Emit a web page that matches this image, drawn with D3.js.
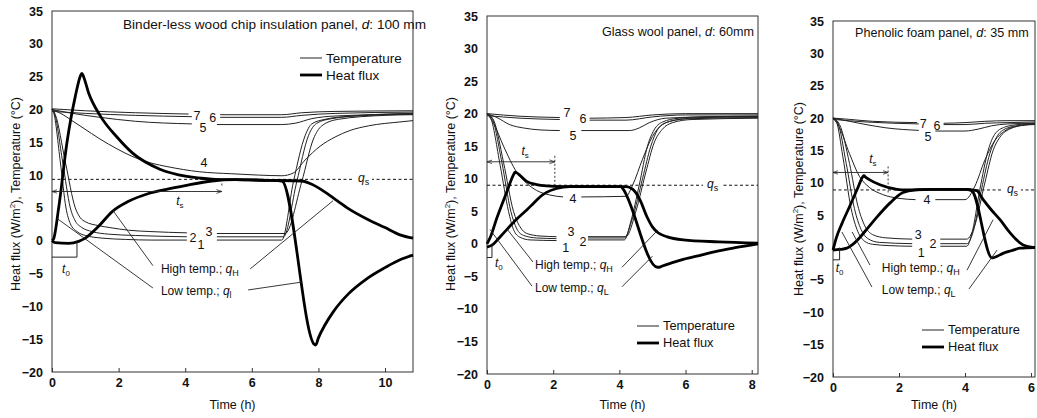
<!DOCTYPE html>
<html>
<head>
<meta charset="utf-8">
<script src="https://cdn.jsdelivr.net/npm/d3@7"></script>
<style>
body { margin: 0; background: #fff; }
svg text { font-family: "Liberation Sans", Arial, sans-serif; fill: #111; }
</style>
</head>
<body>
<svg id="chart" width="1037" height="418"></svg>
<script>
// ---------- data (time in h, value in degC or W/m2) ----------
// null = gap in the recorded trace (where the curve number sits)

// binder-less wood chip panel, d = 100 mm
var woodT1 = [[0,20],[0.05,19.5],[0.25,12],[0.42,5],[0.55,2.6],[0.75,1.4],[1,0.8],[1.5,0.4],[2.2,0.2],[3,0.1],[4.05,0.1],null,[4.95,0.1],[6.9,0.1],[7.25,9],[7.6,16],[7.8,17.8],[8.2,18.5],[9,19],[10,19.3],[10.84,19.4]];
var woodT2 = [[0,20],[0.08,19.3],[0.32,12],[0.55,5],[0.7,3],[0.9,2],[1.2,1.4],[1.7,1],[2.5,0.8],[4.05,0.6],null,[4.95,0.6],[6.95,0.6],[7.35,9],[7.7,16],[7.95,17.9],[8.4,18.6],[9.5,19.1],[10.84,19.3]];
var woodT3 = [[0,20],[0.1,19.2],[0.4,12],[0.7,5],[0.85,3.5],[1,2.9],[1.4,2.3],[1.74,2],[2.3,1.6],[2.94,1.4],[4.05,1.2],null,[4.95,1.1],[7,1.1],[7.5,9],[7.85,15.5],[8.1,17.5],[8.6,18.5],[10,19.1],[10.84,19.2]];
var woodT4 = [[0,20],[0.3,19.3],[0.6,18.3],[0.93,17.2],[1.44,15.5],[1.95,14],[2.43,12.8],[3,11.8],[3.45,11.3],[4.44,10.5],[5.4,10.2],[6.2,10],[6.9,9.9],[7.24,10.3],[7.6,12.3],[8.05,14.4],[8.5,15.8],[8.95,16.8],[9.5,17.5],[10.45,18.1],[10.84,18.3]];
var woodT5 = [[0,20],[0.5,19.5],[1.44,18.8],[2.5,18.2],[4.2,17.8],null,[4.95,17.7],[6.9,17.7],[7.3,17.9],[7.8,18.6],[8.5,19],[10.84,19.3]];
var woodT6 = [[0,19.7],[1,19.4],[2.5,19.1],[4.2,18.9],null,[5.05,18.8],[6.9,18.8],[7.5,19.1],[8.5,19.4],[10.84,19.6]];
var woodT7 = [[0,20.1],[1,19.8],[2.5,19.5],[4.1,19.3],null,[5.05,19.2],[6.9,19.2],[7.5,19.5],[8.5,19.7],[10.84,19.8]];
var woodQH = [[0,0],[0.1,-0.3],[0.5,-0.4],[0.8,-0.1],[1,0.4],[1.4,2.2],[1.8,4.4],[2.3,6],[2.9,7.2],[3.5,7.9],[4,8.4],[4.8,9.1],[5.5,9.3],[6.5,9.2],[7.5,9.1],[7.8,8.6],[8.2,7.4],[8.56,6.1],[8.9,4.9],[9.5,3.2],[10,2],[10.45,0.9],[10.84,0.4]];
var woodQL = [[0,0],[0.05,0.3],[0.2,5],[0.45,15],[0.7,22],[0.86,25.2],[0.9,25.5],[0.94,25.1],[1.1,22.5],[1.44,19.1],[1.95,15.8],[2.43,13.3],[3.24,10.9],[4.05,9.8],[4.8,9.4],[5.5,9.3],[6.5,9.2],[6.9,9.1],[7.88,-15.8],[7.92,-15.9],[8,-14.8],[8.2,-12.8],[8.45,-10.8],[8.9,-8.1],[9.45,-5.8],[10,-4.1],[10.45,-2.9],[10.84,-2.2]];

// glass wool panel, d = 60 mm
var glassT1 = [[0,20],[0.1,19.5],[0.4,12],[0.65,5],[0.8,2.2],[1,1],[1.3,0.6],[2.1,0.5],null,[3.05,0.6],[4.15,0.6],[4.35,3.5],[4.6,9],[4.85,15],[5.05,17.5],[5.3,18.7],[5.8,19.3],[6.5,19.5],[8.19,19.6]];
var glassT2 = [[0,20],[0.15,19.3],[0.45,12.5],[0.72,5],[0.9,2.3],[1.1,1.3],[1.5,0.9],[2.1,0.8],null,[3.05,0.9],[4.15,0.9],[4.4,4],[4.7,10],[4.95,15],[5.15,17.5],[5.4,18.6],[6,19.2],[8.19,19.4]];
var glassT3 = [[0,20],[0.2,19],[0.5,12.5],[0.8,5],[1,2.6],[1.2,1.6],[1.6,1.2],[2.1,1.1],null,[3.05,1.1],[4.2,1.1],[4.5,5],[4.8,11],[5.05,15.5],[5.3,17.6],[5.6,18.6],[6.2,19.1],[8.19,19.3]];
var glassT4 = [[0,20],[0.2,18.5],[0.5,15],[0.9,11],[1.2,9.3],[1.5,8.2],[1.9,7.5],[2.3,7.2],null,[2.85,7.2],[4.2,7.3],[4.4,9],[4.7,13],[5,16.5],[5.3,18.3],[5.7,19],[6.5,19.4],[8.19,19.5]];
var glassT5 = [[0,20],[0.3,19.4],[0.69,18.3],[1.1,17.8],[1.6,17.5],[2.2,17.4],null,[2.85,17.4],[4.3,17.4],[4.6,17.8],[4.9,18.6],[5.4,19.3],[6.5,19.5],[8.19,19.6]];
var glassT6 = [[0,19.7],[1,19.3],[2.2,19.1],null,[3.1,19],[4.2,19],[5,19.5],[6,19.8],[8.19,19.8]];
var glassT7 = [[0,20],[1,19.6],[2.2,19.4],null,[3.1,19.3],[4.2,19.4],[5,19.8],[6,20],[8.19,20]];
var glassQH = [[0,-0.5],[0.15,-0.2],[0.4,1.1],[0.9,3.8],[1.2,5.2],[1.4,6.2],[1.6,7.2],[1.8,7.9],[2.1,8.5],[2.5,8.8],[3,8.8],[4.2,8.8],[4.4,8.4],[4.62,6.8],[4.83,4.2],[5,2.6],[5.17,1.7],[5.43,1.1],[5.93,0.6],[7,0.3],[8.19,0.1]];
var glassQL = [[0,0],[0.1,1],[0.3,4],[0.6,8],[0.8,10.6],[0.85,11],[0.9,10.9],[1,10.5],[1.2,9.6],[1.5,9.1],[1.8,8.9],[2.3,8.8],[3,8.8],[4.05,8.8],[4.1,8.5],[5.15,-3.6],[5.2,-3.6],[5.3,-3.4],[5.6,-2.9],[5.93,-2.4],[6.5,-1.7],[6.9,-1.2],[7.5,-0.6],[8.19,0]];

// phenolic foam panel, d = 35 mm
var phenT1 = [[0,20],[0.1,19.5],[0.3,14],[0.55,6],[0.75,2.5],[0.95,1],[1.2,0.5],[1.7,0.3],[2.4,0.2],null,[3.25,0.2],[4.05,0.2],[4.2,2],[4.45,9],[4.7,15],[4.9,17.5],[5.2,18.6],[5.6,19],[6.12,19.2]];
var phenT2 = [[0,20],[0.15,19.2],[0.4,13],[0.65,6],[0.85,2.8],[1.05,1.4],[1.4,0.8],[2.4,0.6],null,[3.25,0.6],[4.05,0.6],[4.25,2.5],[4.5,9],[4.75,14.5],[4.95,17],[5.25,18.4],[5.7,18.9],[6.12,19.1]];
var phenT3 = [[0,20],[0.2,19],[0.5,13],[0.75,6.5],[0.95,3.5],[1.2,2],[1.6,1.5],[2.4,1.3],null,[3.25,1.3],[4.05,1.3],[4.3,3.5],[4.6,10],[4.85,15],[5.05,17],[5.35,18.3],[5.8,18.9],[6.12,19]];
var phenT4 = [[0,20],[0.2,18.5],[0.5,14.5],[0.8,11],[1.1,9.3],[1.5,8.2],[2,7.6],[2.5,7.4],null,[3.1,7.4],[4,7.4],[4.3,9.5],[4.6,13.5],[4.9,16.5],[5.2,18],[5.6,18.8],[6.12,19.1]];
var phenT5 = [[0,20],[0.5,19.5],[1,19],[1.6,18.5],[2.6,18.1],null,[3.1,18],[4,18],[4.4,18.3],[4.8,18.8],[5.3,19.1],[6.12,19.2]];
var phenT6 = [[0,19.8],[1,19.4],[2.6,19.1],null,[3.35,19],[4,19],[4.6,19.2],[5.3,19.3],[6.12,19.4]];
var phenT7 = [[0,20],[0.5,19.8],[1.2,19.5],[2.55,19.3],null,[3.35,19.2],[4,19.3],[4.6,19.5],[5.3,19.6],[6.12,19.6]];
var phenQH = [[0,-0.4],[0.2,-0.3],[0.42,-0.1],[0.6,0.5],[0.82,1.6],[1.05,3],[1.33,4.7],[1.73,6.9],[2.12,8.5],[2.5,8.9],[3,9],[4,9],[4.35,8.8],[4.55,7.4],[4.8,5.8],[5.06,4.3],[5.36,2.3],[5.76,0.4],[6.12,0]];
var phenQL = [[0,-0.4],[0.1,1.5],[0.27,3.7],[0.5,6.3],[0.75,9.2],[0.9,10.9],[0.94,11.1],[0.98,10.9],[1.1,10.5],[1.42,9.7],[1.94,9],[2.2,8.9],[3,9],[4,9],[4.2,8.8],[4.82,-1.6],[4.9,-1.5],[5.15,-0.9],[5.4,-0.5],[5.67,-0.1],[6.12,0]];

// steady flux q_s, settling time t_s (and level of its arrow), delay t_0
var qsLevels = [9.35, 9.0, 8.9];
var tsTimes = [5.1, 2.05, 1.67];
var tsLevels = [7.5, 12.6, 11.6];
var t0Times = [0.75, 0.15, 0.2];

var yTicks = [-20, -15, -10, -5, 0, 5, 10, 15, 20, 25, 30, 35];
var xTicksWood = [0, 2, 4, 6, 8, 10];
var xTicksGlass = [0, 2, 4, 6, 8];
var xTicksPhen = [0, 2, 4, 6];

var titles = ["Binder-less wood chip insulation panel, ", "Glass wool panel, ", "Phenolic foam panel, "];
var thickness = ["100 mm", "60mm", "35 mm"];

// curve numbers: [text, t, value]
var woodNums = [["7",4.35,19.1],["5",4.53,17.3],["6",4.83,18.8],["4",4.56,11.9],["2",4.23,0.5],["1",4.47,-0.6],["3",4.71,1.4]];
var glassNums = [["7",2.42,20.1],["6",2.9,19.2],["5",2.6,16.6],["4",2.6,6.9],["3",2.54,1.8],["1",2.38,-0.6],["2",2.9,0.4]];
var phenNums = [["7",2.73,19.1],["6",3.15,18.8],["5",2.88,17.1],["4",2.85,7.35],["3",2.58,1.94],["2",3.03,0.55],["1",2.67,-0.84]];

// --------------------------------------------------------------
var svg = d3.select("#chart");

var defs = svg.append("defs");
defs.append("marker")
    .attr("id", "arr")
    .attr("viewBox", "0 0 10 10")
    .attr("refX", 10).attr("refY", 5)
    .attr("markerWidth", 6).attr("markerHeight", 6)
    .attr("orient", "auto-start-reverse")
    .append("path").attr("d", "M0,1.5 L10,5 L0,8.5").attr("fill", "none").attr("stroke", "#222").attr("stroke-width", 1.4);

var panels = [
    {left: 52, right: 413, top: 11, bottom: 372, xMax: 10.84, xTicks: xTicksWood,
     temps: [woodT1, woodT2, woodT3, woodT4, woodT5, woodT6, woodT7], flux: [woodQH, woodQL], nums: woodNums,
     titleX: 123, titleY: 29, titleSize: 13.6, legend: [300, 58], legendSize: 13.5, ylabX: 20, ylabY: 194, lowSub: "l",
     labelAt: [3.27, -4.27, -7.63],
     leaders: [[3.03,-3.8,1.83,4.6],[5.95,-4.3,8.44,6.1],[3.03,-7.2,0.15,3.4],[5.89,-7.5,7.5,-6.3]],
     t0Lab: [0.42, -4.9], t0Bar: -2.5, tsLab: [3.84, 5.5], qsLab: 9.34},
    {left: 487, right: 758, top: 16, bottom: 374, xMax: 8.19, xTicks: xTicksGlass,
     temps: [glassT1, glassT2, glassT3, glassT4, glassT5, glassT6, glassT7], flux: [glassQH, glassQL], nums: glassNums,
     titleX: 602, titleY: 36, titleSize: 12.6, legend: [637, 326], legendSize: 12.8, ylabX: 455, ylabY: 194, lowSub: "L",
     labelAt: [1.45, -3.25, -6.8],
     leaders: [[1.39,-2.8,0.6,2.3],[4.08,-3.6,5.16,2.1],[1.36,-6.5,0.09,2.2],[4.08,-6.6,5.0,-1.9]],
     t0Lab: [0.36, -3.6], t0Bar: -2.1, tsLab: [1.15, 13.6], qsLab: 6.8},
    {left: 833, right: 1035, top: 21, bottom: 377, xMax: 6.12, xTicks: xTicksPhen,
     temps: [phenT1, phenT2, phenT3, phenT4, phenT5, phenT6, phenT7], flux: [phenQH, phenQL], nums: phenNums,
     titleX: 855, titleY: 37, titleSize: 12.6, legend: [922, 330], legendSize: 12.8, ylabX: 803, ylabY: 199, lowSub: "L",
     labelAt: [1.48, -3.16, -6.56],
     leaders: [[1.12,-2.7,0.58,2.4],[4.06,-3.5,4.85,4.3],[1.18,-6.1,0.27,2.4],[4.12,-6.4,4.97,-0.4]],
     t0Lab: [0.2, -3.8], t0Bar: -1.9, tsLab: [1.21, 13.1], qsLab: 5.42}
];

function qLabel(sel, sub) {
    sel.append("tspan").attr("font-style", "italic").text("q");
    sel.append("tspan").attr("font-size", "9px").attr("dy", 3).text(sub);
}

panels.forEach(function(p, i) {
    var x = d3.scaleLinear().domain([0, p.xMax]).range([p.left, p.right]);
    var y = d3.scaleLinear().domain([-20, 35]).range([p.bottom, p.top]);
    var g = svg.append("g");

    // frame
    g.append("rect")
     .attr("x", p.left).attr("y", p.top)
     .attr("width", p.right - p.left).attr("height", p.bottom - p.top)
     .attr("fill", "none").attr("stroke", "#333").attr("stroke-width", 1);

    // axes
    var ya = g.append("g")
     .attr("transform", "translate(" + p.left + ",0)")
     .call(d3.axisLeft(y).tickValues(yTicks).tickSize(0).tickPadding(9));
    var xa = g.append("g")
     .attr("transform", "translate(0," + p.bottom + ")")
     .call(d3.axisBottom(x).tickValues(p.xTicks).tickFormat(d3.format("d"))
           .tickSizeInner(-4).tickSizeOuter(0).tickPadding(6));
    [ya, xa].forEach(function(a) {
        a.select(".domain").remove();
        a.selectAll("text").attr("font-size", "12.5px").attr("font-weight", "bold")
         .attr("font-family", "'Liberation Sans', Arial, sans-serif").attr("fill", "#111");
        a.selectAll("line").attr("stroke", "#333");
    });

    // axis titles
    g.append("text")
     .attr("x", (p.left + p.right) / 2).attr("y", 409)
     .attr("text-anchor", "middle").attr("font-size", "12.5px")
     .text("Time (h)");
    var yl = g.append("text")
     .attr("transform", "translate(" + p.ylabX + "," + p.ylabY + ") rotate(-90)")
     .attr("text-anchor", "middle").attr("font-size", "12.5px");
    yl.append("tspan").text("Heat flux (W/m");
    yl.append("tspan").attr("font-size", "8px").attr("dy", -5).text("2");
    yl.append("tspan").attr("dy", 5).text("), Temperature (\u00b0C)");

    // panel title
    var tt = g.append("text").attr("x", p.titleX).attr("y", p.titleY).attr("font-size", p.titleSize + "px");
    tt.append("tspan").text(titles[i]);
    tt.append("tspan").attr("font-style", "italic").text("d");
    tt.append("tspan").text(": " + thickness[i]);

    var line = d3.line()
        .defined(function(d) { return d !== null; })
        .x(function(d) { return x(d[0]); })
        .y(function(d) { return y(d[1]); })
        .curve(d3.curveMonotoneX);

    // steady state line q_s
    g.append("line")
     .attr("x1", p.left).attr("x2", p.right)
     .attr("y1", y(qsLevels[i])).attr("y2", y(qsLevels[i]))
     .attr("stroke", "#111").attr("stroke-width", 1).attr("stroke-dasharray", "3,2.5");

    // temperatures
    p.temps.forEach(function(s) {
        g.append("path").datum(s).attr("d", line)
         .attr("fill", "none").attr("stroke", "#222").attr("stroke-width", 1);
    });
    // heat flux
    p.flux.forEach(function(s) {
        g.append("path").datum(s).attr("d", line)
         .attr("fill", "none").attr("stroke", "#000").attr("stroke-width", 2.8)
         .attr("stroke-linejoin", "round");
    });

    // q_s label with white gap in dashed line
    var qx = x(p.qsLab), qy = y(qsLevels[i]);
    g.append("rect").attr("x", qx - 9).attr("y", qy - 6).attr("width", 18).attr("height", 12).attr("fill", "#fff");
    var ql = g.append("text").attr("x", qx - 5).attr("y", qy + 3).attr("font-size", "12px");
    qLabel(ql, "s");

    // t_s arrow
    g.append("line")
     .attr("x1", x(0)).attr("x2", x(tsTimes[i]))
     .attr("y1", y(tsLevels[i])).attr("y2", y(tsLevels[i]))
     .attr("stroke", "#222").attr("stroke-width", 0.9)
     .attr("marker-start", "url(#arr)").attr("marker-end", "url(#arr)");
    g.append("line")
     .attr("x1", x(tsTimes[i])).attr("x2", x(tsTimes[i]))
     .attr("y1", y(tsLevels[i]) - 6).attr("y2", y(qsLevels[i]) + 4)
     .attr("stroke", "#222").attr("stroke-width", 0.9).attr("stroke-dasharray", "2,2");
    var tsl = g.append("text").attr("x", x(p.tsLab[0])).attr("y", y(p.tsLab[1]))
     .attr("font-size", "12px").attr("text-anchor", "middle");
    tsl.append("tspan").attr("font-style", "italic").text("t");
    tsl.append("tspan").attr("font-size", "8px").attr("dy", 3).text("s");

    // t_0 bracket
    g.append("path")
     .attr("d", "M" + x(0) + "," + y(p.t0Bar) + "H" + x(t0Times[i]) + "V" + y(0))
     .attr("fill", "none").attr("stroke", "#222").attr("stroke-width", 1);
    var t0l = g.append("text").attr("x", x(p.t0Lab[0])).attr("y", y(p.t0Lab[1]))
     .attr("font-size", "12px").attr("text-anchor", "middle");
    t0l.append("tspan").attr("font-style", "italic").text("t");
    t0l.append("tspan").attr("font-size", "8px").attr("dy", 3).text("0");

    // curve numbers
    p.nums.forEach(function(n) {
        g.append("text").attr("x", x(n[1])).attr("y", y(n[2])).attr("dy", "0.35em")
         .attr("text-anchor", "middle").attr("font-size", "12.5px").text(n[0]);
    });

    // high / low temperature side labels and leaders
    p.leaders.forEach(function(l) {
        g.append("line")
         .attr("x1", x(l[0])).attr("y1", y(l[1])).attr("x2", x(l[2])).attr("y2", y(l[3]))
         .attr("stroke", "#222").attr("stroke-width", 0.9);
    });
    var hl = g.append("text").attr("x", x(p.labelAt[0])).attr("y", y(p.labelAt[1])).attr("dy", "0.35em")
     .attr("font-size", "12px");
    hl.append("tspan").text("High temp.; ");
    qLabel(hl, "H");
    var ll = g.append("text").attr("x", x(p.labelAt[0])).attr("y", y(p.labelAt[2])).attr("dy", "0.35em")
     .attr("font-size", "12px");
    ll.append("tspan").text("Low temp.; ");
    qLabel(ll, p.lowSub);

    // legend
    var lg = g.append("g").attr("transform", "translate(" + p.legend[0] + "," + p.legend[1] + ")");
    lg.append("line").attr("x1", 0).attr("x2", 22).attr("y1", 0).attr("y2", 0)
      .attr("stroke", "#222").attr("stroke-width", 1);
    lg.append("line").attr("x1", 0).attr("x2", 22).attr("y1", 17).attr("y2", 17)
      .attr("stroke", "#000").attr("stroke-width", 2.8);
    lg.append("text").attr("x", 26).attr("y", 0).attr("dy", "0.35em").attr("font-size", p.legendSize + "px").text("Temperature");
    lg.append("text").attr("x", 26).attr("y", 17).attr("dy", "0.35em").attr("font-size", p.legendSize + "px").text("Heat flux");
});
</script>
</body>
</html>
